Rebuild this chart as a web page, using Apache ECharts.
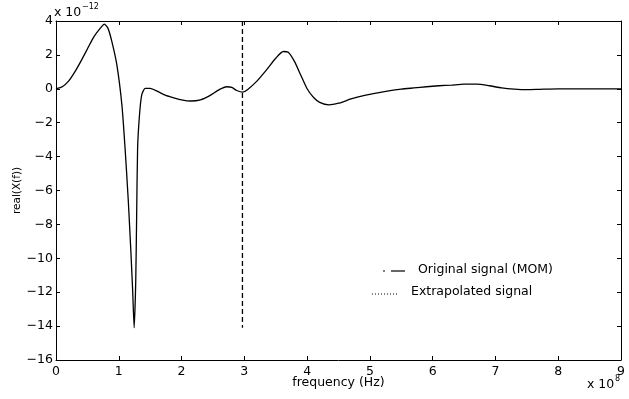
<!DOCTYPE html>
<html>
<head>
<meta charset="utf-8">
<script src="https://cdn.jsdelivr.net/npm/echarts@6/dist/echarts.min.js"></script>
<style>
  html, body { margin: 0; padding: 0; background: #fff; }
  #main { width: 629px; height: 399px; }
</style>
</head>
<body>
<div id="main"></div>
<script>
// frequency in units of 1e8 Hz, real(X(f)) in units of 1e-12
const freq = [
  0.00, 0.10, 0.20, 0.30, 0.40, 0.50, 0.60, 0.70, 0.77, 0.83,
  0.89, 0.97, 1.05, 1.10, 1.15, 1.19, 1.22, 1.245, 1.27, 1.285,
  1.30, 1.33, 1.365, 1.42, 1.50, 1.60, 1.74, 1.85, 2.00, 2.15,
  2.30, 2.45, 2.60, 2.72, 2.80, 2.88, 2.97, 3.05, 3.20, 3.35,
  3.50, 3.62, 3.70, 3.80, 3.90, 4.00, 4.10, 4.20, 4.35, 4.50,
  4.70, 4.90, 5.10, 5.30, 5.50, 5.70, 5.90, 6.10, 6.30, 6.50,
  6.70, 6.90, 7.10, 7.30, 7.50, 7.70, 8.00, 8.50, 9.00
];
const realX = [
  0.00, 0.12, 0.45, 1.00, 1.65, 2.35, 3.05, 3.55, 3.82, 3.55,
  2.78, 1.40, -0.96, -3.50, -6.50, -9.40, -11.80, -14.10, -11.40, -7.40,
  -3.50, -1.55, -0.37, 0.03, 0.03, -0.12, -0.37, -0.50, -0.65, -0.72,
  -0.65, -0.40, -0.05, 0.12, 0.08, -0.10, -0.20, -0.05, 0.45, 1.10,
  1.80, 2.20, 2.15, 1.60, 0.80, 0.00, -0.50, -0.80, -0.95, -0.85,
  -0.60, -0.40, -0.25, -0.12, -0.02, 0.05, 0.12, 0.18, 0.22, 0.27,
  0.27, 0.18, 0.05, -0.02, -0.05, -0.03, 0.00, 0.00, 0.00
];
// vertical dashed stem of the original signal
const stemX = [2.97, 2.97];
const stemY = [4, -14.1];

const xTicks = [0, 1, 2, 3, 4, 5, 6, 7, 8, 9];
const yTicks = [-16, -14, -12, -10, -8, -6, -4, -2, 0, 2, 4];
const legendNames = ['Original signal (MOM)', 'Extrapolated signal'];

const font = 'DejaVu Sans, Verdana, sans-serif';
const chart = echarts.init(document.getElementById('main'));

const axisCommon = {
  type: 'value',
  axisLine: { show: true, onZero: false, lineStyle: { color: '#000', width: 1 } },
  axisTick: { show: true, inside: true, length: 4, lineStyle: { color: '#000' } },
  splitLine: { show: false }
};

const label = (x, y, text, size) => ({
  type: 'text',
  style: { x: x, y: y, text: text, fontFamily: font, fontSize: size, fill: '#000',
    textAlign: 'left', textVerticalAlign: 'middle' }
});

const option = {
  animation: false,
  backgroundColor: '#fff',
  textStyle: { fontFamily: font },
  grid: { left: 56, right: 8, top: 21, bottom: 39, outerBoundsMode: 'none', containLabel: false },
  xAxis: [
    Object.assign({}, axisCommon, {
      position: 'bottom',
      min: 0, max: 9, interval: 1,
      name: 'frequency (Hz)',
      nameLocation: 'middle',
      nameGap: 16,
      nameMoveOverlap: false,
      nameTextStyle: { fontFamily: font, fontSize: 12.5, color: '#000' },
      axisLabel: { color: '#000', fontSize: 12.5, margin: 5, fontFamily: font,
        formatter: v => xTicks.includes(v) ? String(v) : '' }
    }),
    Object.assign({}, axisCommon, {
      position: 'top',
      min: 0, max: 9, interval: 1,
      axisLabel: { show: false }
    })
  ],
  yAxis: [
    Object.assign({}, axisCommon, {
      position: 'left',
      min: -16, max: 4, interval: 2,
      name: 'real(X(f))',
      nameLocation: 'middle',
      nameGap: 33,
      nameMoveOverlap: false,
      nameTextStyle: { fontFamily: font, fontSize: 10.5, color: '#000' },
      axisLabel: { color: '#000', fontSize: 12.5, margin: 3, fontFamily: font,
        formatter: v => yTicks.includes(v) ? String(v).replace('-', '\u2212') : '' }
    }),
    Object.assign({}, axisCommon, {
      position: 'right',
      min: -16, max: 4, interval: 2,
      axisLabel: { show: false }
    })
  ],
  graphic: [
    label(54, 13, 'x 10', 12.5),
    label(82, 7, '\u221212', 8),
    label(587, 385, 'x 10', 12.5),
    label(615, 379, '8', 8),
    // legend samples and labels
    {
      type: 'line', shape: { x1: 383, y1: 271, x2: 385, y2: 271 },
      style: { stroke: '#000', lineWidth: 1.2 }
    },
    {
      type: 'line', shape: { x1: 391, y1: 271, x2: 405, y2: 271 },
      style: { stroke: '#000', lineWidth: 1.2 }
    },
    label(418, 270, legendNames[0], 12.5),
    {
      type: 'line', shape: { x1: 372, y1: 294, x2: 399, y2: 294 },
      style: { stroke: '#000', lineWidth: 1, lineDash: [1, 2] }
    },
    label(411, 292, legendNames[1], 12.5)
  ],
  series: [
    {
      name: legendNames[1],
      type: 'line',
      data: freq.map((f, i) => [f, realX[i]]),
      showSymbol: false,
      symbol: 'none',
      smooth: 0.2,
      lineStyle: { color: '#000', width: 1.3 },
      itemStyle: { color: '#000' }
    },
    {
      name: legendNames[0],
      type: 'line',
      data: stemX.map((f, i) => [f, stemY[i]]),
      showSymbol: false,
      symbol: 'none',
      lineStyle: { color: '#000', width: 1.3, type: [5, 3] },
      itemStyle: { color: '#000' }
    }
  ]
};

chart.setOption(option);
</script>
</body>
</html>
